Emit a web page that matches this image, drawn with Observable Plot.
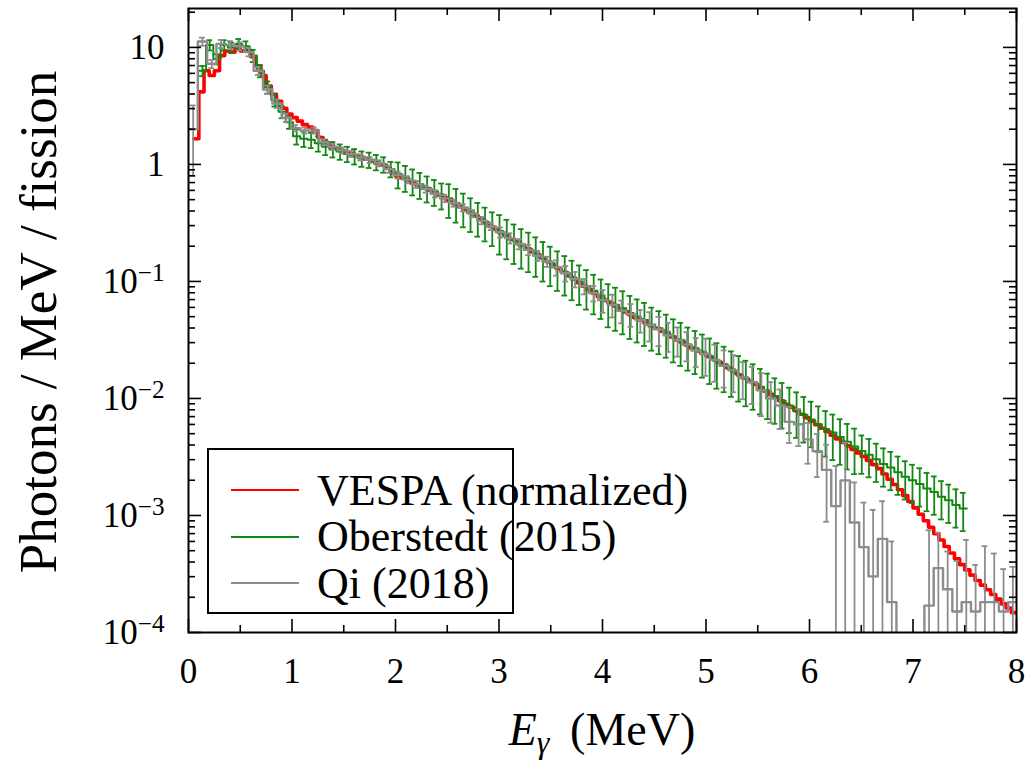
<!DOCTYPE html>
<html><head><meta charset="utf-8">
<script src="https://cdn.jsdelivr.net/npm/d3@7"></script>
<script src="https://cdn.jsdelivr.net/npm/@observablehq/plot@0.6"></script>
<style>
body{margin:0;background:#fff;}
#wrap{position:relative;width:1025px;height:762px;overflow:hidden;}
#legend{position:absolute;left:207px;top:448px;width:307px;height:166px;border:2px solid #000;background:#fff;box-sizing:border-box;font-family:"Liberation Serif",serif;font-size:44px;color:#000;}
.row{position:absolute;left:0;height:46px;display:flex;align-items:center;white-space:nowrap;}
.row svg{margin-left:22px;margin-right:18px;flex:none;}
#ytitle{position:absolute;left:38px;top:322px;transform:translate(-50%,-50%) rotate(-90deg);white-space:nowrap;font-family:"Liberation Serif",serif;font-size:53px;line-height:1;color:#000;}
</style>
</head><body>
<div id="wrap"><div id="chart"></div><div id="ytitle"></div><div id="legend"></div></div>
<script>
// ---- data ----
// Series names / colours
const seriesNames = ["VESPA (normalized)", "Oberstedt (2015)", "Qi (2018)"];
const seriesColors = ["#ff0000", "#118811", "#8c8c8c"];
const yTitle = "Photons / MeV / fission";

// Axis ticks
const xMajor = [0, 1, 2, 3, 4, 5, 6, 7, 8];
const xMinor = [0.5, 1.5, 2.5, 3.5, 4.5, 5.5, 6.5, 7.5];
const yMajor = [1e-4, 1e-3, 1e-2, 1e-1, 1, 10];

// VESPA (normalized): bins of 0.05 MeV starting at 0.05 MeV; log10(photons/MeV/fission)
const vespaBinStart = 0.05, vespaBinWidth = 0.05;
const vespaLog10 = [
  0.22, 0.62, 0.80, 0.76, 0.80, 0.93, 0.97, 0.96, 0.99, 0.97,
  0.97, 0.92, 0.84, 0.76, 0.67, 0.60, 0.54, 0.48, 0.43, 0.40,
  0.37, 0.34, 0.32, 0.29, 0.23, 0.19, 0.17, 0.14, 0.12, 0.10,
  0.09, 0.075, 0.06, 0.045, 0.03, 0.01, -0.005, -0.03, -0.07, -0.10,
  -0.115, -0.135, -0.16, -0.18, -0.20, -0.22, -0.24, -0.26, -0.285, -0.31,
  -0.335, -0.36, -0.385, -0.41, -0.44, -0.47, -0.50, -0.53, -0.555, -0.585,
  -0.61, -0.64, -0.665, -0.69, -0.72, -0.745, -0.775, -0.80, -0.83, -0.86,
  -0.89, -0.92, -0.95, -0.98, -1.01, -1.04, -1.07, -1.10, -1.13, -1.16,
  -1.185, -1.21, -1.235, -1.26, -1.285, -1.31, -1.33, -1.355, -1.38, -1.40,
  -1.425, -1.45, -1.475, -1.50, -1.52, -1.545, -1.57, -1.595, -1.615, -1.64,
  -1.665, -1.69, -1.715, -1.74, -1.77, -1.80, -1.825, -1.855, -1.88, -1.91,
  -1.935, -1.965, -1.99, -2.02, -2.05, -2.075, -2.105, -2.135, -2.165, -2.195,
  -2.225, -2.255, -2.285, -2.315, -2.345, -2.375, -2.405, -2.435, -2.465, -2.495,
  -2.53, -2.565, -2.60, -2.645, -2.69, -2.735, -2.78, -2.83, -2.88, -2.935,
  -2.99, -3.045, -3.10, -3.155, -3.21, -3.265, -3.32, -3.37, -3.42, -3.465,
  -3.51, -3.555, -3.595, -3.635, -3.675, -3.715, -3.755, -3.79, -3.83
];

// Oberstedt (2015): bins of 0.07 MeV starting at 0.10 MeV
const oberBinStart = 0.10, oberBinWidth = 0.07;
const oberLog10 = [
  0.80, 1.02, 0.90, 1.02, 1.00, 1.03, 1.01, 0.93, 0.80, 0.66,
  0.55, 0.45, 0.36, 0.24, 0.22, 0.21, 0.18, 0.15, 0.13, 0.11,
  0.09, 0.07, 0.05, 0.04, 0.02, 0.00, -0.04, -0.08, -0.11, -0.14,
  -0.17, -0.20, -0.23, -0.26, -0.29, -0.33, -0.37, -0.41, -0.45, -0.49,
  -0.53, -0.57, -0.61, -0.65, -0.69, -0.72, -0.76, -0.80, -0.84, -0.88,
  -0.92, -0.96, -1.00, -1.04, -1.08, -1.12, -1.17, -1.20, -1.23, -1.27,
  -1.30, -1.33, -1.37, -1.40, -1.43, -1.47, -1.50, -1.54, -1.57, -1.60,
  -1.64, -1.68, -1.71, -1.75, -1.79, -1.83, -1.86, -1.90, -1.94, -1.98,
  -2.02, -2.06, -2.10, -2.14, -2.18, -2.22, -2.26, -2.29, -2.33, -2.37,
  -2.41, -2.45, -2.48, -2.52, -2.56, -2.59, -2.63, -2.67, -2.70, -2.73,
  -2.77, -2.80, -2.84, -2.87, -2.91, -2.94
];
// relative uncertainty of each Oberstedt bin
const oberRelErr = [
  0.10, 0.10, 0.10, 0.10, 0.10, 0.10, 0.10, 0.12, 0.12, 0.12,
  0.12, 0.12, 0.12, 0.15, 0.15, 0.15, 0.15, 0.15, 0.15, 0.15,
  0.15, 0.15, 0.15, 0.15, 0.15, 0.15, 0.15, 0.25, 0.25, 0.25,
  0.25, 0.25, 0.25, 0.25, 0.32, 0.32, 0.32, 0.32, 0.32, 0.32,
  0.32, 0.37, 0.37, 0.37, 0.37, 0.37, 0.37, 0.37, 0.37, 0.37,
  0.37, 0.37, 0.37, 0.37, 0.37, 0.37, 0.40, 0.40, 0.40, 0.40,
  0.40, 0.40, 0.40, 0.40, 0.40, 0.40, 0.40, 0.40, 0.40, 0.40,
  0.42, 0.42, 0.42, 0.42, 0.42, 0.42, 0.42, 0.42, 0.42, 0.42,
  0.42, 0.42, 0.42, 0.42, 0.42, 0.42, 0.42, 0.42, 0.42, 0.42,
  0.42, 0.36, 0.36, 0.36, 0.36, 0.36, 0.36, 0.36, 0.36, 0.36,
  0.36, 0.36, 0.36, 0.36, 0.36, 0.36
];

// Qi (2018): bins of 0.09 MeV starting at 0; null = empty bin
const qiBinStart = 0.0, qiBinWidth = 0.09;
const qiLog10 = [
  0.30, 1.05, 0.86, 1.03, 1.02, 1.01, 0.96, 0.80, 0.64, 0.52,
  0.40, 0.31, 0.29, 0.29, 0.19, 0.15, 0.12, 0.09, 0.06, 0.04,
  0.01, -0.04, -0.09, -0.13, -0.17, -0.21, -0.25, -0.29, -0.33, -0.37,
  -0.42, -0.48, -0.53, -0.58, -0.63, -0.68, -0.73, -0.78, -0.83, -0.88,
  -0.93, -0.98, -1.04, -1.10, -1.16, -1.20, -1.25, -1.28, -1.33, -1.37,
  -1.41, -1.46, -1.50, -1.54, -1.59, -1.62, -1.67, -1.72, -1.76, -1.82,
  -1.86, -1.93, -2.00, -2.06, -2.20, -2.22, -2.35, -2.45, -2.61, -2.92,
  -2.70, -3.06, -3.27, -3.52, -3.20, -3.74, null, null, null, -3.77,
  -3.45, -3.63, -3.82, -3.74, -3.82, -3.74, -3.74, -3.82, -3.74
];
const qiRelErr = [
  0.60, 0.08, 0.08, 0.08, 0.08, 0.08, 0.08, 0.08, 0.08, 0.08,
  0.08, 0.06, 0.06, 0.06, 0.06, 0.06, 0.06, 0.06, 0.06, 0.06,
  0.06, 0.07, 0.07, 0.07, 0.07, 0.07, 0.07, 0.07, 0.07, 0.07,
  0.07, 0.07, 0.07, 0.10, 0.10, 0.10, 0.10, 0.10, 0.10, 0.15,
  0.15, 0.15, 0.15, 0.15, 0.22, 0.22, 0.22, 0.22, 0.22, 0.28,
  0.28, 0.28, 0.28, 0.28, 0.28, 0.35, 0.35, 0.35, 0.35, 0.35,
  0.35, 0.40, 0.38, 0.37, 0.34, 0.35, 0.38, 0.40, 0.64, 1.20,
  1.10, 1.20, 1.40, 2.70, 1.10, 2.30, 0, 0, 0, 3.40,
  1.00, 1.10, 1.70, 2.40, 1.50, 2.00, 1.60, 1.30, 1.00
];

// ---- build tables ----
const FLOOR = 1e-9;
function toBins(start, width, logs, rel) {
  return logs.map((L, i) => {
    const v = L == null ? 0 : Math.pow(10, L);
    return {x0: start + i * width, x1: start + (i + 1) * width, xc: start + (i + 0.5) * width,
            v, e: rel ? v * rel[i] : 0};
  });
}
const toSteps = b => b.flatMap(d => [{x: d.x0, y: Math.max(d.v, FLOOR)}, {x: d.x1, y: Math.max(d.v, FLOOR)}]);
const toBars = b => b.filter(d => d.e > 0).map(d => ({x: d.xc, lo: Math.max(d.v - d.e, FLOOR), hi: d.v + d.e, hasLo: d.v - d.e > 0}));

const vespa = toBins(vespaBinStart, vespaBinWidth, vespaLog10, null);
const ober = toBins(oberBinStart, oberBinWidth, oberLog10, oberRelErr);
const qi = toBins(qiBinStart, qiBinWidth, qiLog10, qiRelErr);
const oberBars = toBars(ober), qiBars = toBars(qi);
const capHalf = 0.028;
const yMinor = yMajor.flatMap(d => [2,3,4,5,6,7,8,9].map(k => k * d)).filter(v => v < 21.5);

// ---- layout ----
const W = 1025, H = 762, mL = 188, mR = 9, mT = 8, mB = 130;
const innerW = W - mL - mR, innerH = H - mT - mB;
const majorLen = 13, minorLen = 7;
const serif = '"Liberation Serif", serif';

function errMarks(bars, color, sw) {
  return [
    Plot.ruleX(bars, {x: "x", y1: "lo", y2: "hi", stroke: color, strokeWidth: sw, clip: true}),
    Plot.ruleY(bars, {y: "hi", x1: d => d.x - capHalf, x2: d => d.x + capHalf, stroke: color, strokeWidth: sw, clip: true}),
    Plot.ruleY(bars.filter(d => d.hasLo), {y: "lo", x1: d => d.x - capHalf, x2: d => d.x + capHalf, stroke: color, strokeWidth: sw, clip: true})
  ];
}

const chart = Plot.plot({
  width: W, height: H,
  marginLeft: mL, marginRight: mR, marginTop: mT, marginBottom: mB,
  style: {fontFamily: serif, fontSize: "35px", background: "white", color: "black"},
  x: {domain: [0, 8], ticks: xMajor, tickSize: 0, tickPadding: 26, label: null, tickFormat: d => String(d)},
  y: {type: "log", domain: [1e-4, 21.5], ticks: yMajor, tickSize: 0, tickPadding: 24, label: null,
      tickFormat: d => d >= 1 ? String(d) : "10^" + Math.round(Math.log10(d))},
  marks: [
    Plot.line(toSteps(vespa), {x: "x", y: "y", stroke: seriesColors[0], strokeWidth: 3.6, clip: true}),
    ...errMarks(oberBars, seriesColors[1], 1.8),
    Plot.line(toSteps(ober), {x: "x", y: "y", stroke: seriesColors[1], strokeWidth: 2, clip: true}),
    ...errMarks(qiBars, seriesColors[2], 1.8),
    Plot.line(toSteps(qi), {x: "x", y: "y", stroke: seriesColors[2], strokeWidth: 2.4, clip: true}),
    // inward ticks on all four sides
    Plot.tickX(xMajor, {x: d => d, insetTop: innerH - majorLen, strokeWidth: 1.6}),
    Plot.tickX(xMajor, {x: d => d, insetBottom: innerH - majorLen, strokeWidth: 1.6}),
    Plot.tickX(xMinor, {x: d => d, insetTop: innerH - minorLen, strokeWidth: 1.6}),
    Plot.tickX(xMinor, {x: d => d, insetBottom: innerH - minorLen, strokeWidth: 1.6}),
    Plot.tickY(yMajor, {y: d => d, insetRight: innerW - majorLen, strokeWidth: 1.6}),
    Plot.tickY(yMajor, {y: d => d, insetLeft: innerW - majorLen, strokeWidth: 1.6}),
    Plot.tickY(yMinor, {y: d => d, insetRight: innerW - minorLen, strokeWidth: 1.6}),
    Plot.tickY(yMinor, {y: d => d, insetLeft: innerW - minorLen, strokeWidth: 1.6}),
    Plot.frame({stroke: "black", strokeWidth: 2})
  ]
});
document.getElementById("chart").appendChild(chart);

// superscript exponents on the y tick labels
d3.select(chart).selectAll("text").each(function() {
  const t = this.textContent;
  const m = /^10\^(-?\d+)$/.exec(t);
  if (m) {
    const sel = d3.select(this);
    sel.text(null);
    sel.append("tspan").text("10");
    sel.append("tspan").attr("dy", "-0.45em").attr("font-size", "0.72em").text(m[1].replace("-", "\u2212"));
  }
});

// axis titles
document.getElementById("ytitle").textContent = yTitle;
const svg = d3.select(chart);
const xt = svg.append("text")
  .attr("x", mL + innerW / 2).attr("y", 745)
  .attr("text-anchor", "middle").style("font-family", serif).style("font-size", "46px").attr("fill", "black");
xt.append("tspan").attr("font-style", "italic").text("E");
xt.append("tspan").attr("font-style", "italic").attr("font-size", 32).attr("dy", 8).text("\u03b3");
xt.append("tspan").attr("dy", -8).text("\u2009 (MeV)");

// legend
const leg = document.getElementById("legend");
seriesNames.forEach((name, i) => {
  const row = document.createElement("div");
  row.className = "row";
  row.style.top = (17 + i * 46.5) + "px";
  row.innerHTML = `<svg width="68" height="4"><line x1="0" y1="2" x2="68" y2="2" stroke="${seriesColors[i]}" stroke-width="2"/></svg><span>${name}</span>`;
  leg.appendChild(row);
});
</script>
</body></html>
